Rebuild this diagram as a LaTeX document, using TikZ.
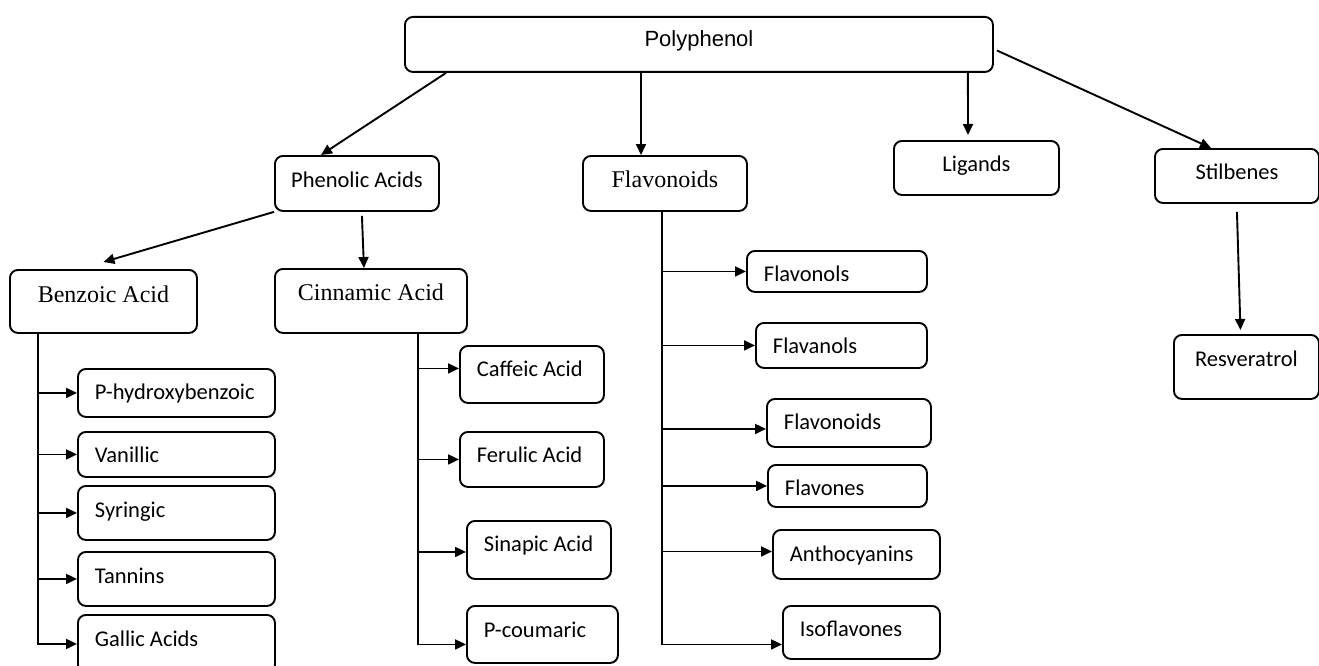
\documentclass[tikz,border=0pt]{standalone}
\usepackage{fontspec}
\setmainfont{Liberation Serif}
\newfontfamily\calib{Carlito}
\newfontfamily\arialf{Liberation Sans}
\usetikzlibrary{arrows.meta}

\tikzset{
  lift/.code={\pgfmathsetmacro\lh{16-#1}\pgfmathsetmacro\ld{6+#1}%
    \edef\tmp{\noexpand\tikzset{text height=\lh pt, text depth=\ld pt}}\tmp},
  box/.style={draw, rounded corners=8pt, line width=1.9pt, inner sep=0pt, anchor=north west, lift=0},
  sansbox/.style={box, font=\calib\fontsize{22.5}{26}\selectfont},
  serifbox/.style={box, font=\fontsize{24}{28}\selectfont},
  leaf/.style={sansbox, align=flush left, inner xsep=17pt},
  arr/.style={line width=1.9pt, -{Triangle[length=11pt,width=10pt]}}
}

\begin{document}
\begin{tikzpicture}[x=1pt,y=-1pt]
\clip (0,0) rectangle (1319,666);

% Top level
\node[box, minimum width=588pt, minimum height=55pt, lift=2.5, font=\arialf\fontsize{22}{26}\selectfont] (poly) at (404,16) {Polyphenol};

% Main groups
\node[sansbox, minimum width=164pt, minimum height=55pt, lift=0.5] (phen) at (274,155) {Phenolic Acids};
\node[serifbox, minimum width=164pt, minimum height=55pt, lift=0.5] (fl) at (582,155) {Flavonoids};
\node[sansbox, minimum width=165pt, minimum height=54pt, lift=1] (lig) at (893,140) {Ligands};
\node[sansbox, minimum width=164pt, minimum height=54pt, lift=1] (stil) at (1154,148) {Stilbenes};
\node[serifbox, minimum width=187pt, minimum height=63pt, lift=3.5] (benz) at (9,269) {Benzoic Acid};
\node[serifbox, minimum width=192pt, minimum height=64pt, lift=5] (cinn) at (274,268) {Cinnamic Acid};
\node[sansbox, minimum width=145pt, minimum height=64pt, lift=5] (resv) at (1173,334) {Resveratrol};

% Leaves
\foreach \n/\x/\y/\w/\h/\r/\t in {
  phb/77/368/197/48/-2/P-hydroxybenzoic,
  van/77/431/197/45/-3.5/Vanillic,
  syr/77/485/197/54/0/Syringic,
  tan/77/551/197/54/0/Tannins,
  gal/77/614/197/58/2/Gallic Acids,
  caf/459/345/144/57/2.5/Caffeic Acid,
  fer/459/431/144/55/1.5/Ferulic Acid,
  sin/466/520/144/58/3/Sinapic Acid,
  pco/466/605/151/57/1.5/P-coumaric,
  fols/746/250/180/41/-5.5/Flavonols,
  fans/755/322/171/45/-3.5/Flavanols,
  fnds/766/398/164/48/-2/Flavonoids,
  fnes/767/464/159/42/-5/Flavones,
  anth/772/529/167/49/-2/Anthocyanins,
  iso/782/605/157/53/0.5/Isoflavones}{
  \pgfmathsetmacro{\tw}{\w-34}
  \node[leaf, text width=\tw pt, minimum height=\h pt, lift=\r] (\n) at (\x,\y) {\t};
}

% Arrows from the top
\draw[arr] ([xshift=42pt]poly.south west) -- ([xshift=47pt]phen.north west);
\draw[arr] ([xshift=237pt]poly.south west) -- ([xshift=59pt]fl.north west);
\draw[arr] ([xshift=-26pt]poly.south east) -- ([xshift=75pt,yshift=5pt]lig.north west);
\draw[arr] ([xshift=3pt,yshift=-6pt]poly.east) -- ([xshift=57pt]stil.north west);
\draw[arr] (phen.south west) -- ([yshift=7pt]benz.north);
\draw[arr] ([xshift=5pt,yshift=-4pt]phen.south) -- ([xshift=-7pt]cinn.north);
\draw[arr] ([yshift=-8pt]stil.south) -- ([xshift=-6pt,yshift=4pt]resv.north);

% Benzoic acid branch
\coordinate (bt) at ([xshift=29pt]benz.south west);
\draw[arr] (bt) |- (gal.west);
\foreach \c in {phb,van,syr,tan}
  \draw[arr] (bt |- \c.west) -- (\c.west);

% Cinnamic acid branch
\coordinate (ct) at ([xshift=144pt]cinn.south west);
\draw[arr] (ct) |- ([yshift=-10pt]pco.west);
\foreach \c/\s in {caf/6,fer/0,sin/-2}{
  \path ([yshift=\s pt]\c.west) coordinate (tip);
  \draw[arr] (ct |- tip) -- (tip);
}

% Flavonoid branch
\coordinate (ft) at ([xshift=80pt]fl.south west);
\draw[arr] (ft) |- ([yshift=-12pt]iso.west);
\foreach \c/\s in {fols/0,fans/0,fnds/-6,fnes/0,anth/3}{
  \path ([yshift=\s pt]\c.west) coordinate (tip);
  \draw[arr] (ft |- tip) -- (tip);
}
\end{tikzpicture}
\end{document}
